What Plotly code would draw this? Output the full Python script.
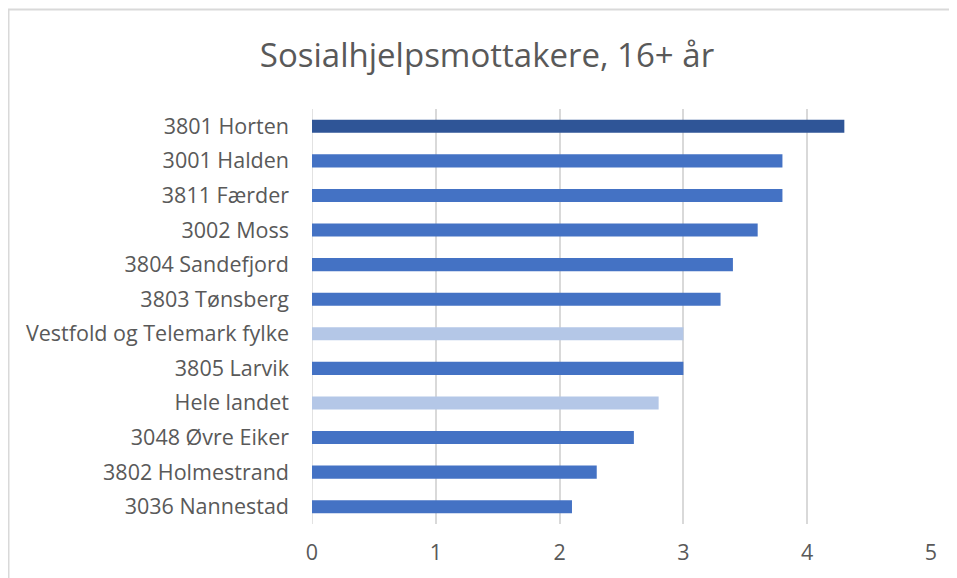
import plotly.graph_objects as go

categories = ["3801 Horten", "3001 Halden", "3811 Færder", "3002 Moss", "3804 Sandefjord",
              "3803 Tønsberg", "Vestfold og Telemark fylke", "3805 Larvik", "Hele landet",
              "3048 Øvre Eiker", "3802 Holmestrand", "3036 Nannestad"]
values = [4.3, 3.8, 3.8, 3.6, 3.4, 3.3, 3.0, 3.0, 2.8, 2.6, 2.3, 2.1]
bar_colors = ["#2F5597", "#4472C4", "#4472C4", "#4472C4", "#4472C4", "#4472C4",
              "#B4C7E7", "#4472C4", "#B4C7E7", "#4472C4", "#4472C4", "#4472C4"]
x_ticks = [0, 1, 2, 3, 4, 5]

W, H = 949, 570
L, R, T, B = 304, 26, 101, 54
pw, ph = W - L - R, H - T - B

fig = go.Figure(go.Bar(
    x=values, y=categories, orientation="h",
    marker=dict(color=bar_colors, line=dict(width=0)),
    hoverinfo="x+y",
))

font_family = "Open Sans, sans-serif"
fs = 21.5
fig.update_layout(
    width=W, height=H,
    margin=dict(l=L, r=R, t=T, b=B),
    paper_bgcolor="white", plot_bgcolor="white",
    bargap=0.62,
    showlegend=False,
    title=dict(text="Sosialhjelpsmottakere, 16+ år", x=(487 - 8) / W, xanchor="center",
               y=1 - 47 / H, yanchor="middle",
               font=dict(family=font_family, size=33, color="#595959")),
    font=dict(family=font_family, size=fs, color="#595959"),
    xaxis=dict(range=[0, 5], tickvals=x_ticks, showgrid=True, gridcolor="#D9D9D9",
               gridwidth=1.5, zeroline=False, showline=False, ticks="",
               ticklabelstandoff=13, tickfont=dict(size=fs, color="#595959")),
    yaxis=dict(autorange="reversed", showgrid=False, zeroline=False, showline=False,
               ticks="", ticklabelstandoff=22, tickfont=dict(size=fs, color="#595959")),
    shapes=[dict(type="rect", xref="paper", yref="paper",
                 x0=(0.5 - L) / pw, x1=(W + 5 - L) / pw,
                 y0=(ph - (H + 5 - T)) / ph, y1=(ph - (1.5 - T)) / ph,
                 line=dict(color="#D9D9D9", width=2), fillcolor="rgba(0,0,0,0)", layer="below"),
            dict(type="line", xref="x", yref="paper", x0=0, x1=0, y0=0, y1=1,
                 line=dict(color="#D9D9D9", width=1.5), layer="below")],
)

fig.write_html("out.html")
